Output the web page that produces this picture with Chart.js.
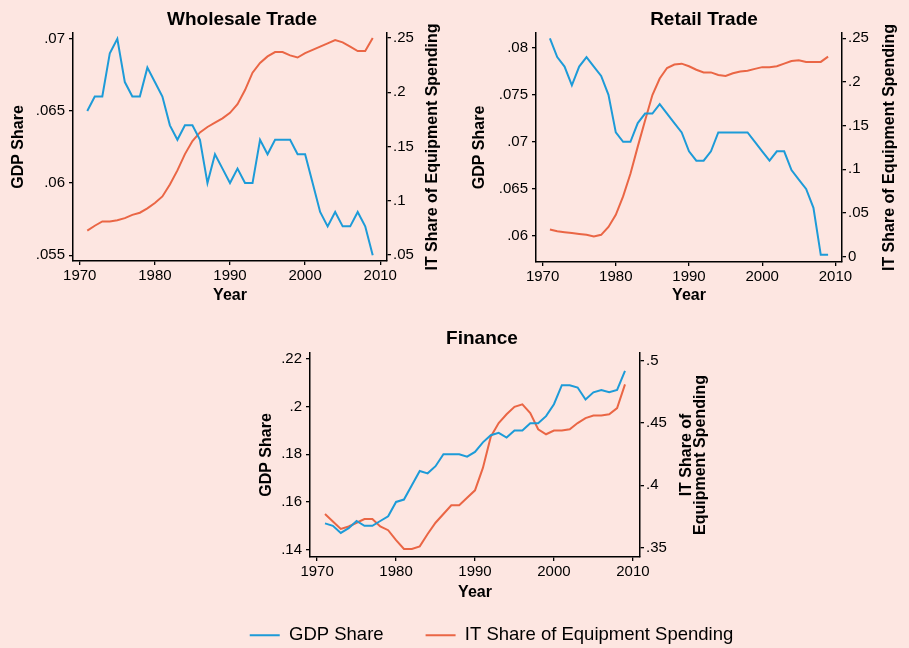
<!DOCTYPE html>
<html>
<head>
<meta charset="utf-8">
<script src="https://cdn.jsdelivr.net/npm/chart.js@4.4.1/dist/chart.umd.min.js"></script>
<style>
  body { margin: 0; width: 909px; height: 648px; background: #fde6e1; overflow: hidden; position: relative; }
  canvas { position: absolute; }
</style>
</head>
<body>
<canvas id="wholesale"></canvas>
<canvas id="retail"></canvas>
<canvas id="finance"></canvas>
<canvas id="legend"></canvas>
<script>
const years = [1971, 1972, 1973, 1974, 1975, 1976, 1977, 1978, 1979, 1980,
  1981, 1982, 1983, 1984, 1985, 1986, 1987, 1988, 1989, 1990,
  1991, 1992, 1993, 1994, 1995, 1996, 1997, 1998, 1999, 2000,
  2001, 2002, 2003, 2004, 2005, 2006, 2007, 2008, 2009];
const yearTicks = [1970, 1980, 1990, 2000, 2010];
const seriesNames = ['GDP Share', 'IT Share of Equipment Spending'];

// Wholesale Trade
const wholesaleGdp = [.065, .066, .066, .069, .070, .067, .066, .066, .068, .067,
  .066, .064, .063, .064, .064, .063, .060, .062, .061, .060,
  .061, .060, .060, .063, .062, .063, .063, .063, .062, .062,
  .060, .058, .057, .058, .057, .057, .058, .057, .055];
const wholesaleIt = [.0725, .077, .081, .081, .082, .084, .087, .089, .093, .098,
  .104, .115, .128, .143, .155, .163, .168, .172, .176, .181,
  .189, .202, .218, .227, .233, .237, .237, .234, .232, .236,
  .239, .242, .245, .248, .246, .242, .238, .238, .250];
const wholesaleGdpTicks = [.055, .06, .065, .07];
const wholesaleItTicks = [.05, .1, .15, .2, .25];

// Retail Trade
const retailGdp = [.081, .079, .078, .076, .078, .079, .078, .077, .075, .071,
  .070, .070, .072, .073, .073, .074, .073, .072, .071, .069,
  .068, .068, .069, .071, .071, .071, .071, .071, .070, .069,
  .068, .069, .069, .067, .066, .065, .063, .058, .058];
const retailIt = [.031, .029, .028, .027, .026, .025, .023, .025, .034, .048,
  .069, .095, .126, .156, .185, .204, .216, .220, .221, .218,
  .214, .211, .211, .208, .207, .210, .212, .213, .215, .217,
  .217, .218, .221, .224, .225, .223, .223, .223, .229];
const retailGdpTicks = [.06, .065, .07, .075, .08];
const retailItTicks = [0, .05, .1, .15, .2, .25];

// Finance
const financeGdp = [.151, .150, .147, .149, .152, .150, .150, .152, .154, .160,
  .161, .167, .173, .172, .175, .180, .180, .180, .179, .181,
  .185, .188, .189, .187, .190, .190, .193, .193, .196, .201,
  .209, .209, .208, .203, .206, .207, .206, .207, .215];
const financeIt = [.377, .371, .365, .367, .370, .373, .373, .367, .364, .356,
  .349, .349, .351, .361, .370, .377, .384, .384, .390, .396,
  .414, .439, .450, .457, .463, .465, .458, .445, .441, .444,
  .444, .445, .450, .454, .456, .456, .457, .462, .481];
const financeGdpTicks = [.14, .16, .18, .2, .22];
const financeItTicks = [.35, .4, .45, .5];

const BLUE = '#1d9bd8';
const RED = '#ea6645';
const FONT = '"Liberation Sans", Arial, Helvetica, sans-serif';

const fmt = v => String(v).replace(/^0\./, '.');
const fixTicks = list => s => { s.ticks = list.map(v => ({ value: v })); };
const fixSize = (key, n) => s => { s[key] = n; };
const toPoints = vals => vals.map((v, i) => ({ x: years[i], y: v }));

const panelText = {
  id: 'panelText',
  afterDraw(chart, args, o) {
    const { ctx, chartArea } = chart;
    ctx.save();
    ctx.fillStyle = '#000';
    ctx.textAlign = 'center';
    ctx.textBaseline = 'middle';
    ctx.font = 'bold 19px ' + FONT;
    ctx.fillText(o.title, o.titleX, o.titleY);
    ctx.font = 'bold 16px ' + FONT;
    ctx.translate(chartArea.right + o.rightOffset, (chartArea.top + chartArea.bottom) / 2);
    ctx.rotate(-Math.PI / 2);
    const lines = [].concat(o.rightTitle);
    lines.forEach((t, i) => ctx.fillText(t, 0, (i - (lines.length - 1) / 2) * 14));
    ctx.restore();
  }
};

function axis(extra) {
  return Object.assign({
    type: 'linear',
    border: { display: true, color: '#000', width: 1.5 },
    grid: { drawOnChartArea: false, drawTicks: true, tickLength: 4, color: '#000', lineWidth: 1.3 },
    ticks: { color: '#000', font: { size: 15, family: FONT }, padding: 2, callback: v => fmt(v) }
  }, extra);
}

function panel(id, box, p) {
  const el = document.getElementById(id);
  el.width = box.w; el.height = box.h;
  el.style.left = box.x + 'px'; el.style.top = box.y + 'px';
  new Chart(el, {
    type: 'line',
    data: {
      datasets: [
        { label: seriesNames[0], data: toPoints(p.gdp), yAxisID: 'y', borderColor: BLUE, borderWidth: 2, pointRadius: 0, tension: 0 },
        { label: seriesNames[1], data: toPoints(p.it), yAxisID: 'y1', borderColor: RED, borderWidth: 2, pointRadius: 0, tension: 0 }
      ]
    },
    options: {
      responsive: false,
      animation: false,
      layout: { padding: { top: 33, left: 0, right: 0, bottom: 0 } },
      plugins: {
        legend: { display: false },
        tooltip: { enabled: false },
        panelText: p.text
      },
      scales: {
        x: axis({
          min: 1969.1, max: 2010.9,
          afterBuildTicks: fixTicks(yearTicks),
          afterFit: fixSize('height', p.xH),
          ticks: { color: '#000', font: { size: 15, family: FONT }, padding: 2, callback: v => String(v) },
          title: { display: true, text: 'Year', color: '#000', font: { size: 16, weight: 'bold', family: FONT }, padding: { top: 0, bottom: p.yearPad } }
        }),
        y: axis({
          position: 'left', min: p.yMin, max: p.yMax,
          afterBuildTicks: fixTicks(p.gdpTicks),
          afterFit: fixSize('width', p.yW),
          ticks: { color: '#000', font: { size: 15, family: FONT }, padding: 4, callback: v => fmt(v) },
          title: { display: true, text: 'GDP Share', color: '#000', font: { size: 16, weight: 'bold', family: FONT }, padding: { top: p.gdpPad, bottom: 0 } }
        }),
        y1: axis({
          position: 'right', min: p.y1Min, max: p.y1Max,
          afterBuildTicks: fixTicks(p.itTicks),
          afterFit: fixSize('width', p.y1W)
        })
      }
    },
    plugins: [panelText]
  });
}

panel('wholesale', { x: 0, y: 0, w: 484, h: 310 }, {
  gdp: wholesaleGdp, it: wholesaleIt, gdpTicks: wholesaleGdpTicks, itTicks: wholesaleItTicks,
  yMin: .0546, yMax: .0704, y1Min: .0445, y1Max: .2546,
  xH: 49, yW: 73, y1W: 97, yearPad: 4.4, gdpPad: 9,
  text: { title: 'Wholesale Trade', titleX: 242, titleY: 20, rightTitle: seriesNames[1], rightOffset: 46 }
});

panel('retail', { x: 455, y: 0, w: 454, h: 310 }, {
  gdp: retailGdp, it: retailIt, gdpTicks: retailGdpTicks, itTicks: retailItTicks,
  yMin: .05724, yMax: .08156, y1Min: -.0061, y1Max: .2561,
  xH: 48, yW: 81, y1W: 67, yearPad: 4.4, gdpPad: 15.4,
  text: { title: 'Retail Trade', titleX: 249, titleY: 20, rightTitle: seriesNames[1], rightOffset: 48 }
});

panel('finance', { x: 240, y: 320, w: 508, h: 300 }, {
  gdp: financeGdp, it: financeIt, gdpTicks: financeGdpTicks, itTicks: financeItTicks,
  yMin: .1369, yMax: .2225, y1Min: .3425, y1Max: .5062,
  xH: 63, yW: 70, y1W: 108, yearPad: 17.4, gdpPad: 17,
  text: { title: 'Finance', titleX: 242, titleY: 18.3, rightTitle: ['IT Share of', 'Equipment Spending'], rightOffset: 53.5 }
});

// shared legend strip under the panels
const legendEl = document.getElementById('legend');
legendEl.width = 833; legendEl.height = 160;
legendEl.style.left = '75px'; legendEl.style.top = '584px';
new Chart(legendEl, {
  type: 'line',
  data: {
    datasets: [
      { label: seriesNames[0], data: [], borderColor: BLUE, backgroundColor: BLUE, borderWidth: 2 },
      { label: seriesNames[1], data: [], borderColor: RED, backgroundColor: RED, borderWidth: 2 }
    ]
  },
  options: {
    responsive: false,
    animation: false,
    layout: { padding: 0 },
    scales: { x: { display: false }, y: { display: false } },
    plugins: {
      tooltip: { enabled: false },
      legend: {
        position: 'top',
        labels: { boxWidth: 30, boxHeight: 0, padding: 42, color: '#000', font: { size: 18.5, family: FONT } }
      }
    }
  }
});
</script>
</body>
</html>
